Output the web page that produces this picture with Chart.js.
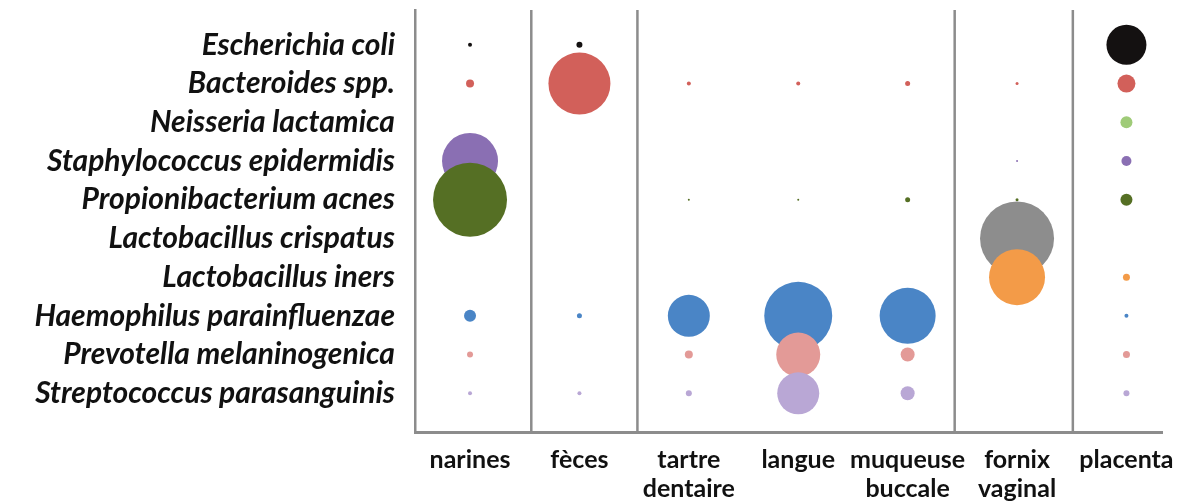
<!DOCTYPE html>
<html lang="fr">
<head>
  <meta charset="UTF-8" />
  <title>Microbiote par site</title>
  <script src="https://cdn.jsdelivr.net/npm/chart.js@4.4.1/dist/chart.umd.min.js"></script>
  <style>
    *{margin:0;padding:0;box-sizing:border-box}
    body{background:#fff;width:1179px;height:501px;overflow:hidden}
    .wrap{position:relative;width:1179px;height:501px}
  </style>
</head>
<body>
  <div class="wrap"><canvas id="bubbles"></canvas></div>
  <script>
    // sites (x axis), multi-line labels
    const sites = [['narines'], ['fèces'], ['tartre', 'dentaire'], ['langue'], ['muqueuse', 'buccale'], ['fornix', 'vaginal'], ['placenta']];
    const species = ['Escherichia coli', 'Bacteroides spp.', 'Neisseria lactamica', 'Staphylococcus epidermidis', 'Propionibacterium acnes',
      'Lactobacillus crispatus', 'Lactobacillus iners', 'Haemophilus parainfluenzae', 'Prevotella melaninogenica', 'Streptococcus parasanguinis'];
    const colors = ['#141111', '#d2605a', '#9fcb78', '#8a6fb3', '#556f24', '#8d8d8d', '#f39b48', '#4a85c6', '#e39a97', '#b9a7d5'];

    // bubble sizes per site: narines, fèces, tartre, langue, muqueuse, fornix, placenta
    const ecoli       = [2, 3, 0, 0, 0, 0, 20];
    const bacteroides = [4, 31, 2, 2, 2.5, 1.5, 9];
    const neisseria   = [0, 0, 0, 0, 0, 0, 6];
    const staph       = [28, 0, 0, 0, 0, 1, 5];
    const propioni    = [37, 0, 1, 1, 2.5, 1.5, 6];
    const crispatus   = [0, 0, 0, 0, 0, 37, 0];
    const iners       = [0, 0, 0, 0, 0, 28, 3.5];
    const haemophilus = [6, 2.5, 21, 34, 28, 0, 2];
    const prevotella  = [3, 0, 4, 22, 7, 0, 3.5];
    const strepto     = [2, 2, 3, 21, 7, 0, 3];
    const sizes = [ecoli, bacteroides, neisseria, staph, propioni, crispatus, iners, haemophilus, prevotella, strepto];

    // vertical separators between site groups (x value)
    const dividers = [0.56, 1.53, 4.43, 5.51];

    const datasets = species.map((name, i) => ({
      label: name,
      data: sizes[i].map((r, j) => r > 0 ? {x: j, y: i, r: r} : null).filter(p => p),
      backgroundColor: colors[i],
      borderWidth: 0,
      hoverRadius: 0,
      order: species.length - i
    }));

    const dividerPlugin = {
      id: 'dividers',
      beforeDatasetsDraw(chart) {
        const {ctx, chartArea, scales} = chart;
        ctx.save();
        ctx.strokeStyle = '#8c8c8c';
        ctx.lineWidth = 2.5;
        dividers.forEach(v => {
          const x = scales.x.getPixelForValue(v);
          ctx.beginPath();
          ctx.moveTo(x, chartArea.top);
          ctx.lineTo(x, chartArea.bottom);
          ctx.stroke();
        });
        ctx.restore();
      }
    };

    new Chart(document.getElementById('bubbles'), {
      type: 'bubble',
      data: {datasets},
      plugins: [dividerPlugin],
      options: {
        responsive: true,
        maintainAspectRatio: false,
        animation: false,
        layout: {autoPadding: false, padding: {top: 10, right: 17, left: 0, bottom: 0}},
        plugins: {legend: {display: false}, tooltip: {enabled: false}},
        scales: {
          x: {
            type: 'linear', min: -0.503, max: 6.325,
            afterBuildTicks: s => { s.ticks = sites.map((_, i) => ({value: i})); },
            afterFit: s => { s.height = 69; s.paddingLeft = 0; s.paddingRight = 0; },
            grid: {display: false, drawTicks: false},
            border: {display: true, color: '#8c8c8c', width: 3},
            ticks: {
              padding: 13, maxRotation: 0, autoSkip: false,
              color: '#111',
              font: {family: 'Lato', weight: 'bold', size: 25, lineHeight: 1.17},
              callback: v => sites[v]
            }
          },
          y: {
            type: 'linear', min: -0.9, max: 10, reverse: true,
            afterBuildTicks: s => { s.ticks = species.map((_, i) => ({value: i})); },
            afterFit: s => { s.width = 415; s.paddingTop = 0; s.paddingBottom = 0; },
            grid: {display: false, drawTicks: false},
            border: {display: true, color: '#8c8c8c', width: 2.5},
            ticks: {
              padding: 20, autoSkip: false,
              color: '#111',
              font: {family: 'Lato', style: 'italic', weight: 'bold', size: 30},
              callback: v => species[v]
            }
          }
        }
      }
    });
  </script>
</body>
</html>
